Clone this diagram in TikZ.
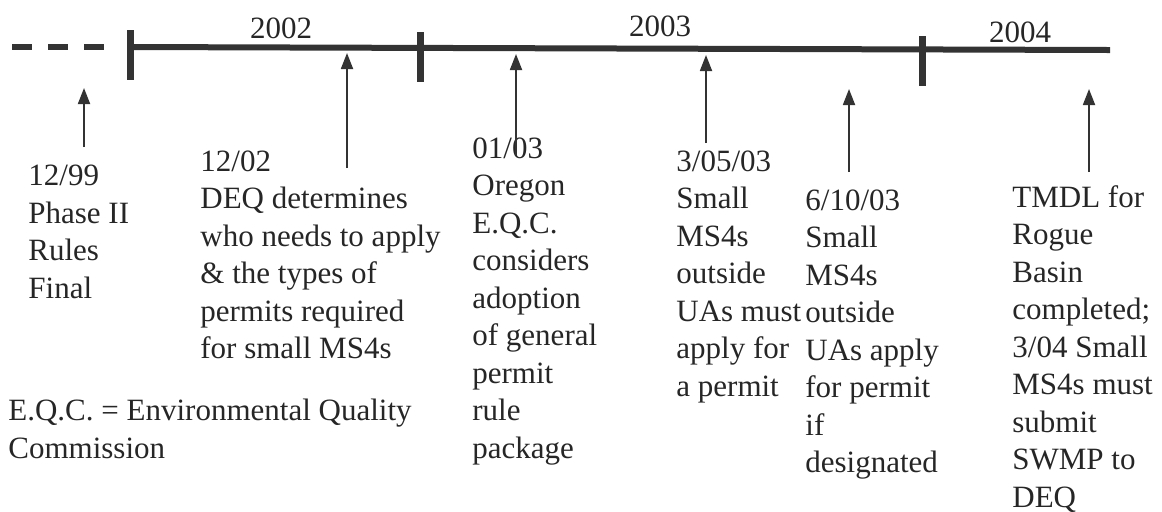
\documentclass[tikz,border=0pt]{standalone}
\usepackage{fontspec}
\setmainfont{Liberation Serif}
\usetikzlibrary{positioning,arrows.meta}
\definecolor{inkgray}{gray}{0.2}

\begin{document}
\begin{tikzpicture}[x=0.5pt, y=-0.5pt, inkgray,
  event/.style={anchor=north west, inner sep=0pt, align=left, text=black!85,
    font=\fontsize{15.5}{18.75}\selectfont},
  year/.style={inner sep=0pt, text=black!85, font=\fontsize{15.5}{18.75}\selectfont},
  pointer/.style={-{Triangle[width=6pt,length=8pt]}, line width=0.9pt},
  axis/.style={line width=3pt},
  tick/.style={line width=3.5pt}]
  \useasboundingbox (0,0) rectangle (1162,511);
  % time line
  \draw[axis, dash pattern=on 10pt off 8pt] (12,47) -- (104,47);
  \draw[axis] (130,47) -- (1110,50);
  \draw[tick] (130,30) -- (130,80);
  \draw[tick] (420,32) -- (420,82);
  \draw[tick] (922,36) -- (922,86);
  % years
  \node[year] (y2002) at (281,28) {2002};
  \node[year] (y2003) at (660,26) {2003};
  \node[year] (y2004) at (1020,32) {2004};
  % events
  \node[event] (e99) at (28,165) {12/99\\Phase II\\Rules\\Final};
  \node[event] (e02) at (200,150) {12/02\\DEQ determines\\who needs to apply\\\& the types of\\permits required\\for small MS4s};
  \node[event] (e03) at (472,137) {01/03\\Oregon\\E.Q.C.\\considers\\adoption\\of general\\permit\\rule\\package};
  \node[event] (e0305) at (676,150) {3/05/03\\Small\\MS4s\\outside\\UAs must\\apply for\\a permit};
  \node[event] (e0610) at (805,189) {6/10/03\\Small\\MS4s\\outside\\UAs apply\\for permit\\if\\designated};
  \node[event] (e04) at (1012,185) {TMDL for\\Rogue\\Basin\\completed;\\3/04 Small\\MS4s must\\submit\\SWMP to\\DEQ};
  \node[event] (note) at (8,399) {E.Q.C. = Environmental Quality\\Commission};
  % pointers
  \coordinate (b99) at (84,147);   \coordinate (t99) at (84,88);
  \coordinate (b02) at (347,168);  \coordinate (t02) at (347,53);
  \coordinate (b03) at (516,155);  \coordinate (t03) at (516,54);
  \coordinate (b0305) at (706,143); \coordinate (t0305) at (706,55);
  \coordinate (b0610) at (849,172); \coordinate (t0610) at (849,89);
  \coordinate (b04) at (1089,172); \coordinate (t04) at (1089,89);

\foreach \from/\to in {b99/t99,b02/t02,b03/t03,b0305/t0305,b0610/t0610,b04/t04}
    \draw[pointer] (\from) -- (\to);
\end{tikzpicture}
\end{document}
